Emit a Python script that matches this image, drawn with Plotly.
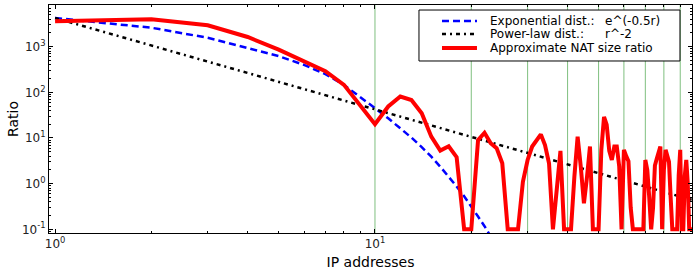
import plotly.graph_objects as go

# ---- data ----
exp_r = list(range(1, 25))
exp_vals = [4246, 2600, 1570, 950, 620, 400, 250, 145, 80, 45, 27, 16.5,
            10.2, 6.3, 3.9, 2.35, 1.43, 0.87, 0.53, 0.32, 0.19, 0.117, 0.071, 0.043]

pow_r = [1, 2, 5, 10, 20, 50, 98]
pow_vals = [4250, 1060, 170, 42.5, 10.6, 1.7, 0.44]

nat_r = list(range(1, 99))
nat_vals = [3600, 4000, 2950, 1630, 860, 490, 290, 146, 49, 20,
            49, 81, 68, 35, 10.7, 5.3, 6.6, 3.8, 0.1, 0.1,
            9, 13, 7.7, 6, 2.8, 0.1, 0.1, 0.1, 1.1, 3.3,
            6.5, 9, 12, 7, 2.8, 0.1, 1.0, 5.2, 0.1, 0.1,
            0.1, 1.4, 10.7, 2.3, 0.37, 1.4, 6.5, 0.1, 0.1, 0.1,
            5.5, 29, 19.5, 5.2, 3.3, 6.5, 6.5, 2.4, 0.1, 5.5,
            4, 3.1, 0.3, 0.1, 0.1, 0.1, 0.1, 0.1, 0.1, 3.3,
            2, 0.5, 0.1, 0.3, 2.5, 3.5, 5, 6.5, 0.1, 2,
            5.5, 4, 3, 0.5, 0.1, 0.1, 0.1, 0.1, 1.5, 5.5,
            0.1, 0.1, 1.5, 3.3, 1, 0.1, 0.1, 0.1]

vlines_x = [10, 20, 30, 40, 50, 60, 70, 80, 90]

legend_labels = ["Exponential dist.:", "Power-law dist.:", "Approximate NAT size ratio"]
legend_formulas = ["e^(-0.5r)", "r^-2", ""]

x_major = [1, 10]
x_major_text = ["10<sup>0</sup>", "10<sup>1</sup>"]
y_major = [0.1, 1, 10, 100, 1000]
y_major_text = ["10<sup>-1</sup>", "10<sup>0</sup>", "10<sup>1</sup>", "10<sup>2</sup>", "10<sup>3</sup>"]

x_minor = [m * d for d in (1, 10) for m in range(2, 10)]
y_minor = [m * d for d in (0.01, 0.1, 1, 10, 100, 1000) for m in range(1, 10)]

# styles
styles = [dict(color="#0000ff", width=2.5, dash="7px,4px"),
          dict(color="black", width=2.5, dash="4px,4px,2px,4px"),
          dict(color="#ff0000", width=4)]

fig = go.Figure()

for vx in vlines_x:
    fig.add_trace(go.Scatter(x=[vx, vx], y=[0.01, 1e5], mode="lines",
                             line=dict(color="rgba(0,128,0,0.5)", width=1),
                             showlegend=False, hoverinfo="skip"))

fig.add_trace(go.Scatter(x=exp_r, y=exp_vals, mode="lines", name=legend_labels[0],
                         line=styles[0], showlegend=False))
fig.add_trace(go.Scatter(x=pow_r, y=pow_vals, mode="lines", name=legend_labels[1],
                         line=styles[1], showlegend=False))
fig.add_trace(go.Scatter(x=nat_r, y=nat_vals, mode="lines", name=legend_labels[2],
                         line=styles[2], showlegend=False))

font = "DejaVu Sans, sans-serif"
axis_common = dict(type="log", showgrid=False, zeroline=False, showline=True,
                   linecolor="black", linewidth=1, mirror="allticks",
                   ticks="inside", ticklen=4, tickcolor="black",
                   tickfont=dict(family=font, size=12, color="#222"))

fig.update_xaxes(**axis_common, range=[-0.019, 1.991],
                 tickmode="array", tickvals=x_major, ticktext=x_major_text,
                 minor=dict(tickmode="array", tickvals=x_minor, ticks="inside",
                            ticklen=2, tickcolor="black", showgrid=False),
                 title=dict(text="IP addresses", font=dict(family=font, size=14, color="black"),
                            standoff=6))
fig.update_yaxes(**axis_common, range=[-1.081, 3.913],
                 tickmode="array", tickvals=y_major, ticktext=y_major_text,
                 minor=dict(tickmode="array", tickvals=y_minor, ticks="inside",
                            ticklen=2, tickcolor="black", showgrid=False),
                 title=dict(text="Ratio", font=dict(family=font, size=14, color="black"),
                            standoff=0))

# ---- legend drawn as a framed box (paper coords of the plot area) ----
box_x0, box_x1, box_y0, box_y1 = 0.5754, 0.9813, 0.7544, 0.978
row_y = [0.9298, 0.8728, 0.8114]
samp_x0, samp_x1 = 0.6112, 0.6656
text_x, formula_x = 0.6827, 0.8616

shapes = [dict(type="rect", xref="paper", yref="paper", x0=box_x0, x1=box_x1,
               y0=box_y0, y1=box_y1, line=dict(color="black", width=1),
               fillcolor="white", layer="above")]
annotations = []
for i, lab in enumerate(legend_labels):
    shapes.append(dict(type="line", xref="paper", yref="paper", x0=samp_x0, x1=samp_x1,
                       y0=row_y[i], y1=row_y[i], line=styles[i], layer="above"))
    annotations.append(dict(text=lab, xref="paper", yref="paper", x=text_x, y=row_y[i],
                            xanchor="left", yanchor="middle", showarrow=False,
                            font=dict(family=font, size=12, color="black")))
    if legend_formulas[i]:
        annotations.append(dict(text=legend_formulas[i], xref="paper", yref="paper",
                                x=formula_x, y=row_y[i], xanchor="left", yanchor="middle",
                                showarrow=False, font=dict(family=font, size=12, color="black")))

fig.update_layout(
    width=700, height=272,
    margin=dict(l=49, r=8, t=5, b=39),
    paper_bgcolor="white", plot_bgcolor="white",
    font=dict(family=font),
    showlegend=False,
    shapes=shapes, annotations=annotations,
)

fig.write_html("out.html")
